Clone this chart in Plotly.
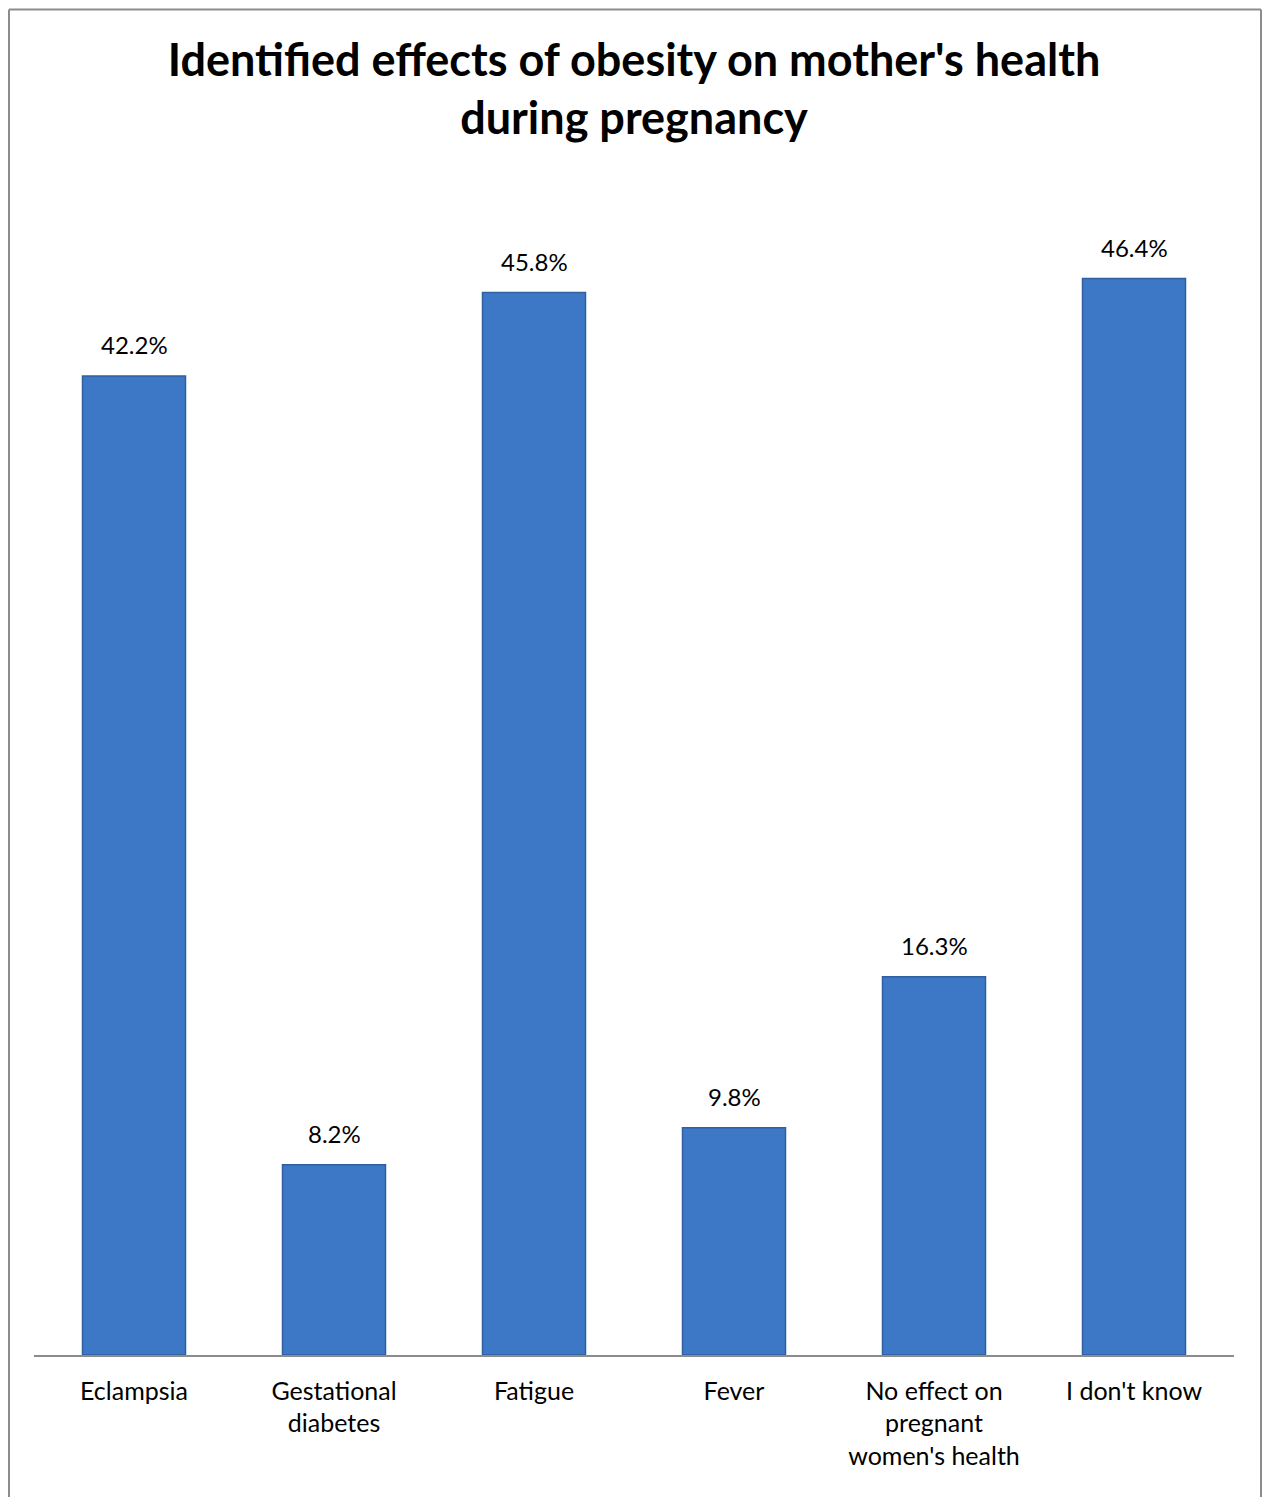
import plotly.graph_objects as go

categories = ["Eclampsia", "Gestational<br>diabetes", "Fatigue", "Fever",
              "No effect on<br>pregnant<br>women's health", "I don't know"]
values = [42.2, 8.2, 45.8, 9.8, 16.3, 46.4]
labels = ["42.2%", "8.2%", "45.8%", "9.8%", "16.3%", "46.4%"]

# page body has an 8px margin; figure is sized to fit inside it
W, H = 1254, 1489
ml, mr, mt, mb = 26, 28, 186.5, 142
pw = W - ml - mr
ph = H - mt - mb

fig = go.Figure(go.Bar(
    x=categories, y=values,
    marker=dict(color="#3C78C5", line=dict(color="#2F5F9F", width=1.5)),
    width=0.515, hoverinfo="skip",
))

annotations = [dict(x=c, y=v, xref="x", yref="y", text=t, showarrow=False,
                    yshift=31, yanchor="middle",
                    font=dict(family="Lato", size=24, color="#000000"))
               for c, v, t in zip(categories, values, labels)]


def px(fx):
    return (fx - ml) / pw


def py(fy):
    return (H - mb - fy) / ph


border = dict(color="#8C8C8C", width=2)
shapes = [
    dict(type="line", xref="paper", yref="paper", x0=px(1), x1=px(1), y0=py(H + 5), y1=py(1), line=border),
    dict(type="line", xref="paper", yref="paper", x0=px(1), x1=px(1253), y0=py(1), y1=py(1), line=border),
    dict(type="line", xref="paper", yref="paper", x0=px(1253), x1=px(1253), y0=py(1), y1=py(H + 5), line=border),
]

fig.update_layout(
    width=W, height=H,
    margin=dict(l=ml, r=mr, t=mt, b=mb),
    paper_bgcolor="white", plot_bgcolor="white",
    title=dict(text="<b>Identified effects of obesity on mother's health<br>during pregnancy</b>",
               x=0.5, xanchor="center", xref="paper",
               y=1 - 67.5 / H, yanchor="middle",
               font=dict(family="Lato", size=45, color="#000000")),
    font=dict(family="Lato", size=25, color="#000000"),
    showlegend=False,
    annotations=annotations,
    xaxis=dict(showline=True, linecolor="#8C8C8C", linewidth=1.5, ticks="",
               tickfont=dict(family="Lato", size=25, color="#000000"), ticklabelstandoff=13),
    yaxis=dict(range=[0, 50], visible=False, showgrid=False),
    shapes=shapes,
)

fig.write_html("out.html")
